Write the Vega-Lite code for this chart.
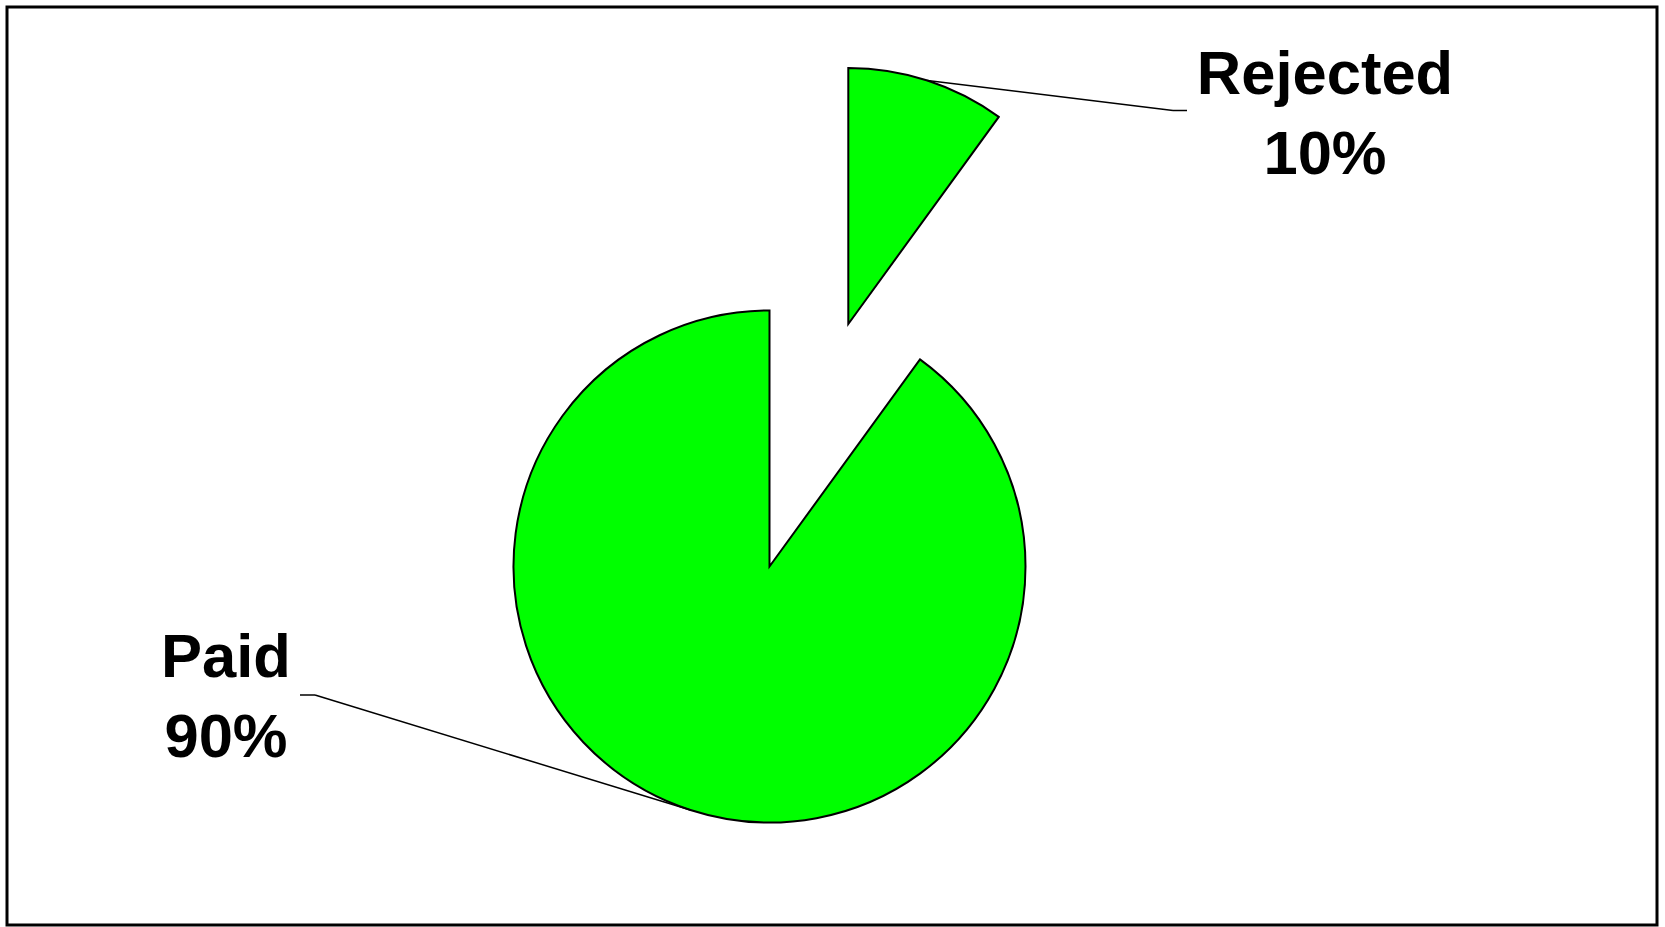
{
  "$schema": "https://vega.github.io/schema/vega-lite/v6.json",
  "width": 1665,
  "height": 927,
  "autosize": {"type": "fit", "contains": "padding"},
  "padding": {"left": 5, "top": 5, "right": 6, "bottom": 0},
  "background": "white",
  "config": {"view": {"stroke": null}},
  "params": [
    {"name": "cx", "value": 762.5},
    {"name": "cy", "value": 559.5},
    {"name": "rad", "value": 256},
    {"name": "ex", "value": 255}
  ],
  "data": {"values": [
    {"category": "Paid", "share": 0.9},
    {"category": "Rejected", "share": 0.1}
  ]},
  "layer": [
    {
      "transform": [{"filter": "datum.category === 'Paid'"}],
      "mark": {"type": "rect", "fill": null, "fillOpacity": 0, "stroke": "black", "strokeWidth": 3},
      "encoding": {
        "x": {"value": 0},
        "y": {"value": 0},
        "x2": {"value": "width"},
        "y2": {"value": "height"}
      }
    },
    {
      "mark": {"type": "arc", "x": {"expr": "cx"}, "y": {"expr": "cy"}, "outerRadius": {"expr": "rad"}, "fill": "#00ff00", "stroke": "black", "strokeWidth": 2, "strokeJoin": "miter"},
      "encoding": {
        "theta": {"field": "share", "type": "quantitative", "stack": true},
        "order": {"field": "share", "type": "quantitative", "sort": "ascending"},
        "opacity": {"condition": {"test": "datum.category === 'Paid'", "value": 1}, "value": 0}
      }
    },
    {
      "mark": {"type": "arc", "x": {"expr": "cx + ex*sin(PI/10)"}, "y": {"expr": "cy - ex*cos(PI/10)"}, "outerRadius": {"expr": "rad"}, "fill": "#00ff00", "stroke": "black", "strokeWidth": 2, "strokeJoin": "miter"},
      "encoding": {
        "theta": {"field": "share", "type": "quantitative", "stack": true},
        "order": {"field": "share", "type": "quantitative", "sort": "ascending"},
        "opacity": {"condition": {"test": "datum.category === 'Rejected'", "value": 1}, "value": 0}
      }
    },
    {
      "transform": [{"filter": "datum.category === 'Rejected'"}],
      "mark": {"type": "rule", "stroke": "black", "strokeWidth": 1.5},
      "encoding": {
        "x": {"value": {"expr": "cx + (ex+rad)*sin(PI/10)"}},
        "y": {"value": {"expr": "cy - (ex+rad)*cos(PI/10)"}},
        "x2": {"value": 1166},
        "y2": {"value": 103.5}
      }
    },
    {
      "transform": [{"filter": "datum.category === 'Rejected'"}],
      "mark": {"type": "rule", "stroke": "black", "strokeWidth": 1.5},
      "encoding": {
        "x": {"value": 1166},
        "y": {"value": 103.5},
        "x2": {"value": 1180},
        "y2": {"value": 103.5}
      }
    },
    {
      "transform": [{"filter": "datum.category === 'Paid'"}],
      "mark": {"type": "rule", "stroke": "black", "strokeWidth": 1.5},
      "encoding": {
        "x": {"value": {"expr": "cx + rad*sin(PI*1.1)"}},
        "y": {"value": {"expr": "cy - rad*cos(PI*1.1)"}},
        "x2": {"value": 308},
        "y2": {"value": 688}
      }
    },
    {
      "transform": [{"filter": "datum.category === 'Paid'"}],
      "mark": {"type": "rule", "stroke": "black", "strokeWidth": 1.5},
      "encoding": {
        "x": {"value": 308},
        "y": {"value": 688},
        "x2": {"value": 293},
        "y2": {"value": 688}
      }
    },
    {
      "transform": [{"filter": "datum.category === 'Rejected'"}],
      "mark": {"type": "text", "x": 1318, "y": 86.7, "align": "center", "baseline": "alphabetic", "font": "Liberation Sans", "fontSize": 61.5, "fontWeight": "bold", "fill": "black"},
      "encoding": {"text": {"field": "category", "type": "nominal"}}
    },
    {
      "transform": [{"filter": "datum.category === 'Rejected'"}],
      "mark": {"type": "text", "x": 1318, "y": 166.7, "align": "center", "baseline": "alphabetic", "font": "Liberation Sans", "fontSize": 61.5, "fontWeight": "bold", "fill": "black"},
      "encoding": {"text": {"field": "share", "type": "quantitative", "format": ".0%"}}
    },
    {
      "transform": [{"filter": "datum.category === 'Paid'"}],
      "mark": {"type": "text", "x": 219, "y": 670, "align": "center", "baseline": "alphabetic", "font": "Liberation Sans", "fontSize": 61.5, "fontWeight": "bold", "fill": "black"},
      "encoding": {"text": {"field": "category", "type": "nominal"}}
    },
    {
      "transform": [{"filter": "datum.category === 'Paid'"}],
      "mark": {"type": "text", "x": 219, "y": 750, "align": "center", "baseline": "alphabetic", "font": "Liberation Sans", "fontSize": 61.5, "fontWeight": "bold", "fill": "black"},
      "encoding": {"text": {"field": "share", "type": "quantitative", "format": ".0%"}}
    }
  ]
}
